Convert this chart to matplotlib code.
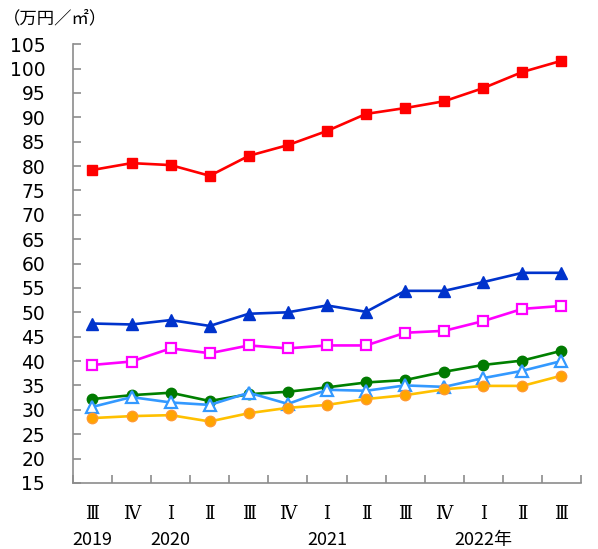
import numpy as np
import matplotlib
matplotlib.use("Agg")
import matplotlib.pyplot as plt

# quarters (Q3 2019 .. Q3 2022)
quarters = ["Ⅲ", "Ⅳ", "Ⅰ", "Ⅱ", "Ⅲ", "Ⅳ", "Ⅰ", "Ⅱ", "Ⅲ", "Ⅳ", "Ⅰ", "Ⅱ", "Ⅲ"]
years = {0: "2019", 2: "2020", 6: "2021", 10: "2022年"}

# price series (万円/㎡)
red_sq = [79.2, 80.6, 80.2, 78.0, 82.1, 84.3, 87.2, 90.7, 91.9, 93.3, 96.0, 99.3, 101.6]
blue_tri = [47.7, 47.5, 48.4, 47.2, 49.7, 50.0, 51.4, 50.1, 54.4, 54.4, 56.2, 58.1, 58.1]
magenta_sq = [39.2, 39.9, 42.6, 41.6, 43.2, 42.6, 43.2, 43.2, 45.8, 46.2, 48.2, 50.7, 51.3]
green_ci = [32.2, 33.0, 33.5, 31.8, 33.2, 33.7, 34.6, 35.6, 36.1, 37.8, 39.2, 40.1, 42.1]
lblue_tri = [30.6, 32.6, 31.5, 31.0, 33.5, 31.2, 34.1, 33.9, 35.0, 34.7, 36.5, 38.0, 40.0]
orange_ci = [28.3, 28.7, 28.9, 27.6, 29.3, 30.4, 31.0, 32.2, 33.0, 34.2, 34.9, 34.9, 37.0]

x = np.arange(len(quarters))

fig = plt.figure(figsize=(5.98, 5.49), dpi=100)
ax = fig.add_axes([0.122, 0.1204, 0.8496, 0.7991])

lw = 1.9
ax.plot(x, green_ci, "-o", color="#008000", mfc="#007a00", mec="#007a00", ms=7.5, lw=lw)
ax.plot(x, lblue_tri, "-^", color="#3399FF", mfc="white", mec="#3399FF", mew=1.6, ms=8.5, lw=lw)
ax.plot(x, orange_ci, "-o", color="#FFC000", mfc="#FFA500", mec="#FF9A33", ms=7.5, lw=lw)
ax.plot(x, magenta_sq, "-s", color="#FF00FF", mfc="white", mec="#FF00FF", mew=1.6, ms=7.5, lw=lw)
ax.plot(x, blue_tri, "-^", color="#0033CC", mfc="#0033CC", mec="#0033CC", ms=8.5, lw=lw)
ax.plot(x, red_sq, "-s", color="#FF0000", mfc="#FF0000", mec="#FF0000", ms=7.5, lw=lw)

ax.set_xlim(-0.5, len(quarters) - 0.5)
ax.set_ylim(15, 105)
ax.set_yticks(np.arange(15, 106, 5))

for s in ["top", "right"]:
    ax.spines[s].set_visible(False)
for s in ["left", "bottom"]:
    ax.spines[s].set_color("#8c8c8c")
    ax.spines[s].set_linewidth(1.2)

ax.tick_params(axis="y", direction="in", length=6, width=1.2, color="#8c8c8c",
               labelsize=13.5, pad=20)
for lab in ax.get_yticklabels():
    lab.set_family("DejaVu Sans")

ax.set_xticks(x)
ax.set_xticklabels(quarters, family=["DejaVu Serif", "Noto Sans CJK JP"], fontsize=13)
ax.tick_params(axis="x", which="major", length=0, pad=16)
ax.set_xticks(np.arange(-0.5, len(quarters), 1), minor=True)
ax.tick_params(axis="x", which="minor", direction="in", length=6, width=1.2, color="#8c8c8c")

for i, y in years.items():
    ax.text(i, -0.13, y, transform=ax.get_xaxis_transform(), ha="center", va="center",
            fontsize=13, family=["Noto Sans CJK JP", "DejaVu Sans"])

fig.text(0.005, 0.967, "（万円／㎡）", fontsize=12.5, ha="left", va="center",
         family=["Noto Sans CJK JP", "DejaVu Sans"])

fig.savefig("out.png", dpi=100)
